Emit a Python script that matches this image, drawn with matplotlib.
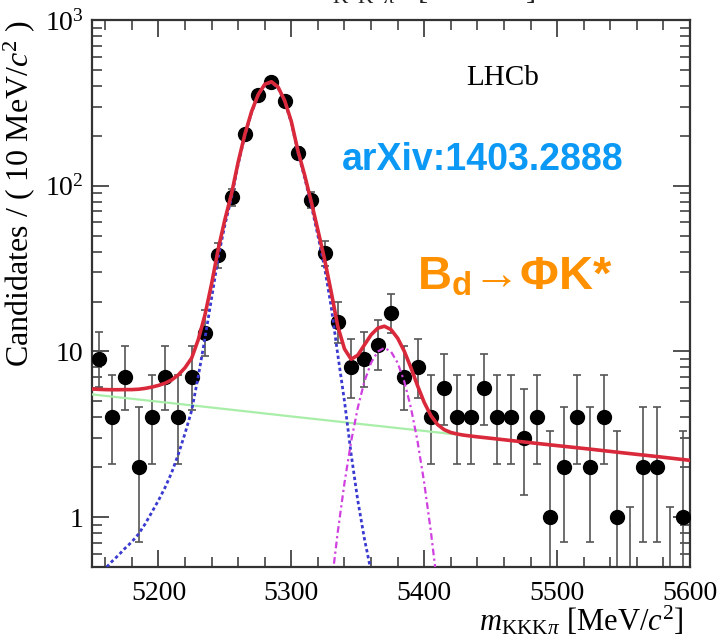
import math
import numpy as np
import matplotlib
matplotlib.use("Agg")
import matplotlib.pyplot as plt
from matplotlib.ticker import MultipleLocator, LogLocator, FixedLocator, NullFormatter

plt.rcParams['font.family'] = ['Liberation Serif', 'DejaVu Serif']
plt.rcParams['mathtext.fontset'] = 'custom'
plt.rcParams['mathtext.rm'] = 'Liberation Serif'
plt.rcParams['mathtext.it'] = 'Liberation Serif:italic'
plt.rcParams['mathtext.bf'] = 'Liberation Sans:bold'

# data: 10 MeV bins
bin_centres = np.arange(5155, 5600, 10)
counts = [9, 4, 7, 2, 4, 7, 4, 7, 13, 38,
          85, 205, 352, 423, 324, 157, 82, 39, 15, 8,
          9, 11, 17, 7, 8, 4, 6, 4, 4, 6,
          4, 4, 3, 4, 1, 2, 4, 2, 4, 1,
          0, 2, 2, 0, 1]

# fit components
blue_mass = np.arange(5150, 5400, 5)
blue_val = [0.43, 0.46, 0.49, 0.54, 0.59, 0.65, 0.71, 0.79, 0.91, 1.07,
            1.26, 1.51, 1.86, 2.4, 3.2, 4.4, 7.1, 12.0, 21, 37,
            58, 85, 135, 200, 275, 350, 405, 420, 390, 322,
            240, 158, 112, 76, 50, 32, 18.6, 9.5, 5.0, 2.4,
            1.26, 0.74, 0.47, 0.28, 0.16, 0.09, 0.05, 0.03, 0.015, 0.008]

mag_mass = np.arange(5325, 5425, 5)
mag_val = [0.156, 0.38, 0.82, 1.61, 2.86, 4.57, 6.58, 8.53, 9.97, 10.5,
           9.97, 8.53, 6.58, 4.57, 2.86, 1.61, 0.82, 0.38, 0.156, 0.058]

green_mass = [5150, 5200, 5250, 5300, 5350, 5400, 5450, 5500, 5550, 5600]
green_val = [5.50, 4.97, 4.49, 4.05, 3.66, 3.31, 2.99, 2.70, 2.44, 2.20]

red_mass = list(range(5150, 5430, 5)) + [5430, 5440, 5450, 5475, 5500, 5525, 5550, 5575, 5600]
red_val = [5.93, 5.90, 5.88, 5.87, 5.87, 5.88, 5.88, 5.91, 5.98, 6.09,
           6.23, 6.43, 6.73, 7.22, 7.97, 9.12, 11.8, 16.6, 25.6, 41.5,
           62.5, 89.4, 139, 204, 279, 354, 409, 424, 394, 326,
           244, 162, 116, 80, 53.9, 36.0, 22.8, 14.1, 10.35, 8.96,
           9.49, 10.94, 12.59, 13.8, 14.18, 13.54, 12.02, 10.02, 7.97, 6.2,
           4.92, 4.10, 3.62, 3.37, 3.24, 3.17,
           3.12, 3.05, 2.99, 2.84, 2.70, 2.57, 2.44, 2.32, 2.20]


def pois_cdf(k, mu):
    s = 0.0
    for i in range(k + 1):
        s += math.exp(-mu + i * math.log(mu) - math.lgamma(i + 1))
    return s


def solve(f, target, lo, hi):
    # f decreasing in mu
    for _ in range(80):
        mid = 0.5 * (lo + hi)
        if f(mid) > target:
            lo = mid
        else:
            hi = mid
    return 0.5 * (lo + hi)


alpha = 0.5 * (1 - 0.6827)
err_lo, err_hi = [], []
for n in counts:
    if n == 0:
        err_lo.append(0.0)
        err_hi.append(1.148)
        continue
    lo = solve(lambda m: pois_cdf(n - 1, m), 1 - alpha, 1e-6, n + 10 * math.sqrt(n) + 10)
    hi = solve(lambda m: pois_cdf(n, m), alpha, 1e-6, n + 10 * math.sqrt(n) + 10)
    err_lo.append(n - lo)
    err_hi.append(hi - n)

counts = np.array(counts, dtype=float)
y_plot = np.where(counts > 0, counts, 1e-3)

fig = plt.figure(figsize=(7.2, 6.4), dpi=100)
ax = fig.add_axes([0.1278, 0.1141, 0.8305, 0.8547])
ax.set_yscale('log')

ax.errorbar(bin_centres, y_plot, yerr=[err_lo, err_hi],
            fmt='none', ecolor='#555555', elinewidth=1.2, capsize=3, capthick=1.2, zorder=2)
mask = counts > 0
ax.plot(bin_centres[mask], counts[mask], 'o', color='black', ms=10, zorder=3)

ax.plot(green_mass, green_val, color='#a8eea8', lw=1.6, zorder=4)
ax.plot(blue_mass, blue_val, color='#3a3ad0', lw=2.0, ls=(0, (1.2, 1.0)), zorder=4)
ax.plot(mag_mass, mag_val, color='#d040e0', lw=1.6, ls=(0, (3, 1.5, 1, 1.5)), zorder=4)
ax.plot(red_mass, red_val, color='#d9293b', lw=2.6, zorder=5)

ax.set_xlim(5150, 5600)
ax.set_ylim(0.5, 1000)

ax.xaxis.set_major_locator(MultipleLocator(100))
ax.xaxis.set_minor_locator(MultipleLocator(20))
ax.yaxis.set_major_locator(FixedLocator([1, 10, 100, 1000]))
ax.set_yticklabels(['1', '10', '$10^{2}$', '$10^{3}$'])
ax.yaxis.set_minor_locator(LogLocator(base=10, subs=np.arange(2, 10)))
ax.yaxis.set_minor_formatter(NullFormatter())

ax.tick_params(which='both', direction='in', top=True, right=True, colors='#333333',
               labelcolor='black', labelsize=20)
ax.tick_params(which='major', length=12, width=1.2)
ax.tick_params(which='minor', length=7, width=1.1)
ax.tick_params(axis='x', pad=10)
ax.tick_params(axis='y', pad=6)
for sp in ax.spines.values():
    sp.set_color('#333333')
    sp.set_linewidth(1.6)

ax.set_ylabel('Candidates / ( 10 MeV/$c^{2}$ )', fontsize=23, loc='top')
ax.yaxis.set_label_coords(-0.092, 1.0)
ax.set_xlabel(r'$m_{\mathrm{KKK}\pi}$ [MeV/$c^{2}$]', fontsize=22, loc='right')
ax.xaxis.set_label_coords(0.99, -0.068)

ax.text(0.687, 0.894, 'LHCb', transform=ax.transAxes, fontsize=21,
        ha='center', va='center')
ax.text(0.418, 0.726, 'arXiv:1403.2888', transform=ax.transAxes, fontsize=27,
        color='#0b99f5', family='Liberation Sans', weight='bold', va='baseline')
ax.text(0.543, 0.506, r'$\mathbf{B}_{\mathbf{d}}$→ΦK*', transform=ax.transAxes, fontsize=34,
        color='#ff9000', family=['Liberation Sans', 'DejaVu Sans'], weight='bold', va='baseline')

# bottom edge of a cropped axis title above the panel
fig.text(0.43, 1.0, r'$m_{\mathrm{K}\ \ \mathrm{K}\ \ \pi}$   [MeV/$c^{2}$]', fontsize=22,
         va='baseline', ha='left', color='#222222')

fig.savefig('out.png', dpi=100)
